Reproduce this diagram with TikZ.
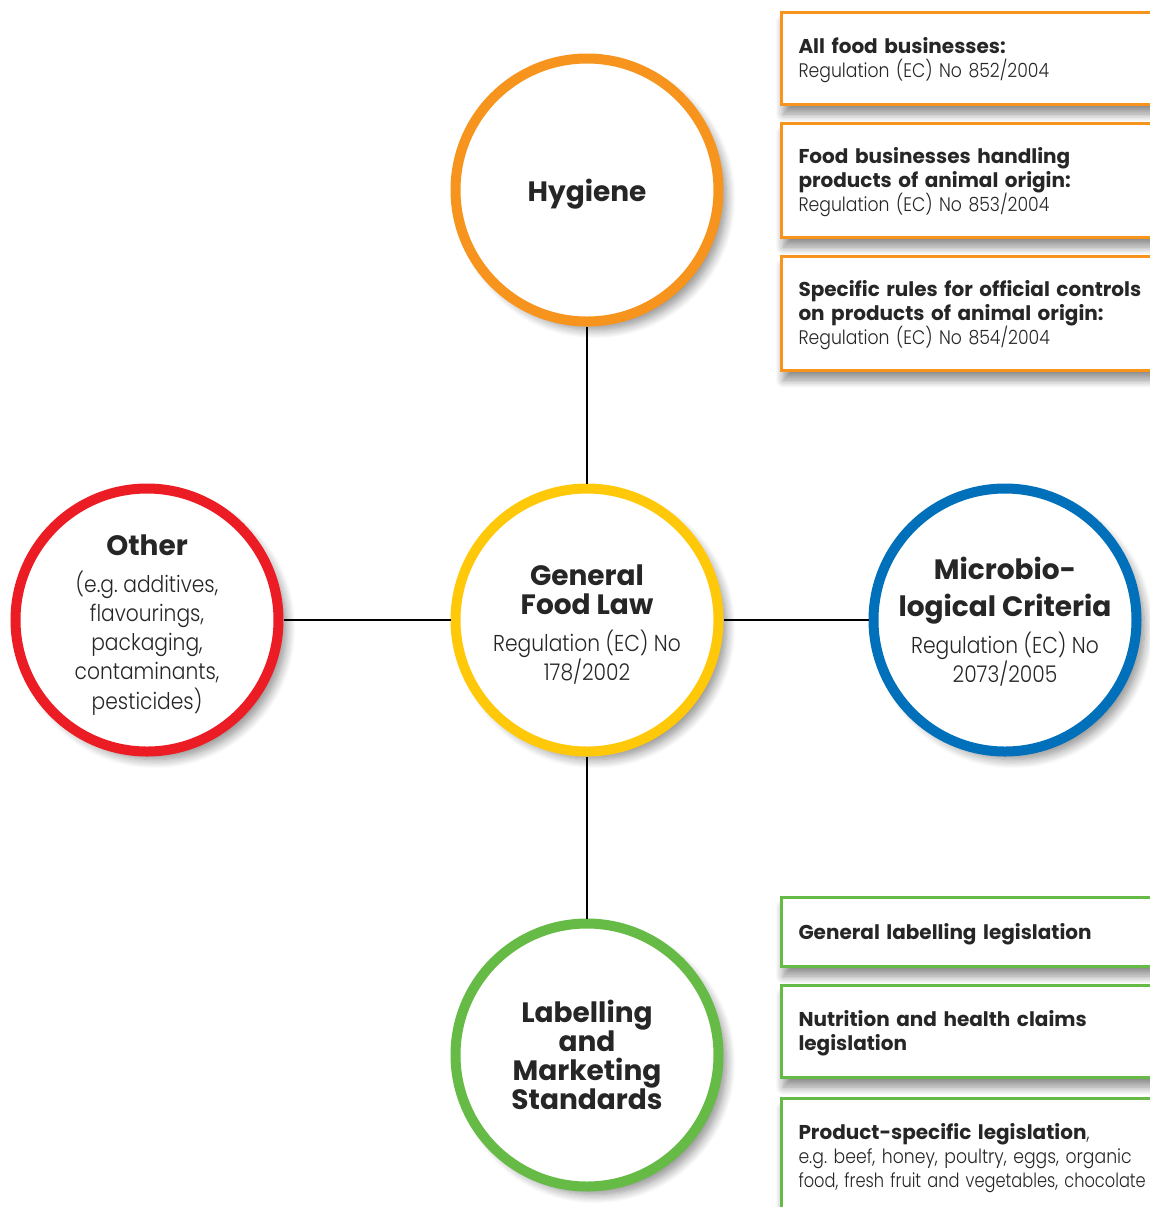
\documentclass[tikz,border=0pt]{standalone}
\usepackage{fontspec}
\setmainfont{Poppins}[UprightFont=* Light, BoldFont=* Bold,
  UprightFeatures={FakeStretch=0.88}]
\usetikzlibrary{shadows.blur}

\definecolor{hygorange}{HTML}{F7941D}
\definecolor{gflyellow}{HTML}{FFC90A}
\definecolor{othred}{HTML}{EC1C24}
\definecolor{micblue}{HTML}{0070BB}
\definecolor{labgreen}{HTML}{66BB46}

\newcommand{\topichead}[1]{{\fontsize{14}{15}\selectfont\bfseries #1}}
\newcommand{\rulehead}[1]{{\fontsize{10}{12}\selectfont\bfseries #1}}
\newcommand{\lift}[1]{\rule{0pt}{#1}}

\tikzset{
  topic/.style={circle, draw=#1, line width=5pt, fill=white, minimum size=131.5pt,
    inner sep=0pt, align=center, text=black!85, font=\fontsize{11.5}{14.6}\selectfont,
    blur shadow={shadow xshift=4pt, shadow yshift=-4pt, shadow blur radius=4.5pt,
      shadow blur steps=10, shadow opacity=45}},
  rulebox/.style={rectangle, draw=#1, line width=1.5pt, fill=white, anchor=west,
    minimum width=197.5pt, text width=190pt, inner xsep=8.5pt, align=left,
    text=black!85, font=\fontsize{9.8}{12}\selectfont,
    execute at begin node={\lift{10.5pt}},
    blur shadow={shadow xshift=1pt, shadow yshift=-5pt, shadow blur radius=4pt,
      shadow blur steps=10, shadow opacity=45}},
  link/.style={line width=1pt, black}
}

\begin{document}
\frenchspacing
\begin{tikzpicture}[x=0.5pt, y=-0.5pt]
\useasboundingbox (0,0) rectangle (1150,1207);
\clip (0,0) rectangle (1150,1207);

% the five topics
\node[topic=hygorange] (hyg) at (587,190) {\lift{15pt}\topichead{Hygiene}};
\node[topic=gflyellow] (gfl) at (587,620) {\lift{15pt}\topichead{General}\\\topichead{Food Law}\\[4pt]Regulation (EC) No\\178/2002};
\node[topic=othred]    (oth) at (147,620) {\lift{15pt}\topichead{Other}\\[4pt](e.g. additives,\\flavourings,\\packaging,\\contaminants,\\pesticides)};
\node[topic=micblue]   (mic) at (1005,620) {\lift{13pt}\topichead{Microbio-}\\[3.5pt]\topichead{logical Criteria}\\[4pt]Regulation (EC) No\\2073/2005};
\node[topic=labgreen]  (lab) at (587,1055) {\topichead{Labelling}\\\topichead{and}\\\topichead{Marketing}\\\topichead{Standards}};

\draw[link] (hyg) -- (gfl);
\draw[link] (gfl) -- (lab);
\draw[link] (oth) -- (gfl);
\draw[link] (gfl) -- (mic);

% hygiene regulations
\node[rulebox=hygorange, minimum height=46pt] (hygA) at (780,58)
  {\rulehead{All food businesses:}\\Regulation (EC) No 852/2004};
\node[rulebox=hygorange, minimum height=57pt] (hygB) at (780,180)
  {\rulehead{Food businesses handling}\\\rulehead{products of animal origin:}\\Regulation (EC) No 853/2004};
\node[rulebox=hygorange, minimum height=57pt] (hygC) at (780,313)
  {\rulehead{Specific rules for official controls}\\\rulehead{on products of animal origin:}\\Regulation (EC) No 854/2004};

% labelling legislation
\node[rulebox=labgreen, minimum height=34.5pt] (labA) at (780,931.5)
  {\rulehead{General labelling legislation}};
\node[rulebox=labgreen, minimum height=46pt] (labB) at (780,1031)
  {\rulehead{Nutrition and health claims}\\\rulehead{legislation}};
\node[rulebox=labgreen, minimum height=57pt] (labC) at (780,1155.5)
  {\rulehead{Product-specific legislation},\\e.g. beef, honey, poultry, eggs, organic\\\scalebox{0.94}[1]{food, fresh fruit and vegetables, chocolate}};
\end{tikzpicture}
\end{document}
